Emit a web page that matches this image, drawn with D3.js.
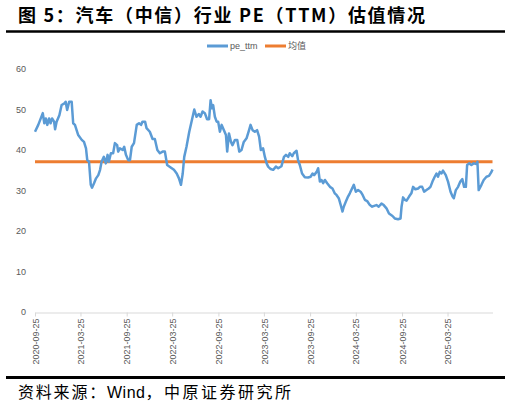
<!DOCTYPE html>
<html lang="zh">
<head>
<meta charset="UTF-8">
<title>汽车（中信）行业 PE（TTM）估值情况</title>
<style>
  html, body { margin: 0; padding: 0; background: #fff; }
  svg { display: block; }
  .axis text { font-family: "Liberation Sans", Arial, sans-serif; font-size: 9px; fill: #595959; }
</style>
</head>
<body>
<script src="https://cdn.jsdelivr.net/npm/d3@7/dist/d3.min.js"></script>
<script>
// weekly-ish readings
var dates = [
  "2020-09-25","2020-10-08","2020-10-26","2020-11-01","2020-11-07","2020-11-13","2020-11-20","2020-11-26",
  "2020-12-02","2020-12-10","2020-12-14","2020-12-20","2020-12-31","2021-01-09","2021-01-20","2021-01-25",
  "2021-01-31","2021-02-08","2021-02-18","2021-02-24","2021-03-03","2021-03-16","2021-03-30","2021-04-08",
  "2021-04-16","2021-04-21","2021-04-28","2021-05-05","2021-05-10","2021-05-18","2021-05-26","2021-06-04",
  "2021-06-11","2021-06-17","2021-06-26","2021-07-04","2021-07-11","2021-07-16","2021-07-24","2021-08-02",
  "2021-08-09","2021-08-18","2021-08-22","2021-08-29","2021-09-09","2021-09-15","2021-09-22","2021-10-01",
  "2021-10-08","2021-10-15","2021-10-24","2021-11-04","2021-11-13","2021-11-21","2021-11-27","2021-12-07",
  "2021-12-13","2021-12-26","2022-01-06","2022-01-15","2022-01-25","2022-02-04","2022-02-15","2022-02-24",
  "2022-03-05","2022-03-19","2022-04-01","2022-04-12","2022-04-21","2022-04-29","2022-05-06","2022-05-12",
  "2022-05-21","2022-06-01","2022-06-10","2022-06-21","2022-06-30","2022-07-09","2022-07-16","2022-07-24",
  "2022-08-02","2022-08-11","2022-08-19","2022-08-25","2022-08-30","2022-09-04","2022-09-11","2022-09-18",
  "2022-09-24","2022-10-01","2022-10-08","2022-10-17","2022-10-25","2022-10-30","2022-11-06","2022-11-14",
  "2022-11-20","2022-11-30","2022-12-09","2022-12-17","2022-12-26","2023-01-04","2023-01-15","2023-01-25",
  "2023-01-31","2023-02-08","2023-02-17","2023-02-26","2023-03-06","2023-03-13","2023-03-22","2023-03-29",
  "2023-04-05","2023-04-11","2023-04-21","2023-05-01","2023-05-12","2023-05-21","2023-06-03","2023-06-13",
  "2023-06-21","2023-06-30","2023-07-06","2023-07-16","2023-07-22","2023-08-02","2023-08-08","2023-08-15",
  "2023-08-24","2023-09-04","2023-09-17","2023-09-27","2023-10-05","2023-10-11","2023-10-21","2023-10-27",
  "2023-11-03","2023-11-09","2023-11-16","2023-11-23","2023-12-02","2023-12-13","2023-12-23","2024-01-01",
  "2024-01-08","2024-01-17","2024-01-25","2024-02-01","2024-02-06","2024-02-14","2024-02-23","2024-03-01",
  "2024-03-10","2024-03-17","2024-03-25","2024-04-03","2024-04-13","2024-04-21","2024-04-30","2024-05-09",
  "2024-05-20","2024-05-29","2024-06-06","2024-06-15","2024-06-24","2024-07-05","2024-07-14","2024-07-25",
  "2024-08-04","2024-08-18","2024-08-27","2024-09-09","2024-09-19","2024-09-23","2024-09-29","2024-10-06",
  "2024-10-13","2024-10-23","2024-11-01","2024-11-08","2024-11-17","2024-11-28","2024-12-05","2024-12-14",
  "2024-12-22","2024-12-31","2025-01-09","2025-01-16","2025-01-24","2025-02-02","2025-02-09","2025-02-15",
  "2025-02-22","2025-03-01","2025-03-07","2025-03-18","2025-03-27","2025-04-06","2025-04-14","2025-04-19",
  "2025-04-27","2025-05-06","2025-05-15","2025-05-23","2025-05-30","2025-06-06","2025-06-11","2025-06-19",
  "2025-06-28","2025-07-07","2025-07-18","2025-07-22","2025-07-27","2025-08-07","2025-08-16","2025-08-27",
  "2025-09-06","2025-09-16","2025-09-20"
];
var peValues = [
  44.5,46.2,49.1,46.6,47.8,46.2,47.8,46.6,
  47.8,47.0,45.1,47.0,48.6,51.1,51.5,51.9,
  49.9,51.9,51.9,46.6,46.2,43.7,42.5,42.0,
  40.4,37.5,37.1,31.4,30.7,31.8,33.0,33.8,
  35.1,37.1,38.3,36.7,38.8,37.1,39.2,39.2,
  41.7,41.2,39.6,40.4,40.0,40.8,38.8,37.5,
  37.5,40.8,41.7,46.2,46.6,46.2,47.0,47.0,
  45.4,44.5,42.7,42.7,40.0,39.2,39.6,39.6,
  36.3,35.7,35.1,34.2,33.0,31.4,34.2,38.3,
  40.8,44.5,47.0,50.0,48.2,48.9,48.2,49.5,
  49.1,47.6,47.6,52.3,50.3,51.1,48.2,47.0,
  47.0,44.5,46.2,44.9,43.7,39.6,44.1,42.0,
  41.2,42.5,42.5,39.6,40.0,42.0,42.9,44.9,
  46.2,44.9,44.5,44.9,43.3,40.0,40.4,38.3,
  36.7,35.9,35.3,35.1,35.9,35.5,36.0,38.3,
  38.8,38.3,39.2,38.5,39.2,39.8,37.5,36.3,
  34.2,33.3,33.2,33.4,34.2,33.8,34.6,35.5,
  32.2,32.6,31.8,32.6,31.8,30.9,30.5,29.3,
  28.9,28.1,26.4,24.8,26.0,27.2,28.5,29.3,
  30.5,31.4,29.7,30.1,29.7,28.9,27.7,27.4,
  26.4,26.0,26.2,26.4,26.0,26.8,26.4,25.6,
  24.3,23.7,23.1,22.9,23.1,26.0,28.3,27.7,
  27.5,28.5,29.3,30.9,30.3,30.5,30.9,30.9,
  29.7,30.1,30.5,30.9,32.2,33.4,34.2,33.4,
  34.6,34.2,34.9,33.8,32.2,29.7,28.5,28.1,
  30.1,30.9,32.2,32.8,30.9,30.9,36.3,36.7,
  36.3,36.7,36.5,37.1,30.1,31.4,32.6,33.4,
  33.6,34.6,35.2
];
var meanValue = 37.1;
var yTicks = [0, 10, 20, 30, 40, 50, 60];
var xTickLabels = ["2020-09-25","2021-03-25","2021-09-25","2022-03-25","2022-09-25",
                   "2023-03-25","2023-09-25","2024-03-25","2024-09-25","2025-03-25"];
var seriesNames = ["pe_ttm", "均值"];
var seriesColors = ["#5B9BD5", "#ED7D31"];

var W = 511, H = 409;
var parse = d3.timeParse("%Y-%m-%d");
var rows = dates.map(function(d, i) { return { date: parse(d), value: peValues[i] }; });

var svg = d3.select("body").append("svg")
  .attr("width", W)
  .attr("height", H);

// title + rules
svg.append("text")
  .attr("x", 18).attr("y", 22)
  .attr("textLength", 407).attr("lengthAdjust", "spacing")
  .style("font-family", "'Noto Sans CJK SC', sans-serif")
  .style("font-weight", "bold")
  .style("font-size", "18px")
  .attr("fill", "#000")
  .text("图 5：汽车（中信）行业 PE（TTM）估值情况");

svg.append("line").attr("x1", 6).attr("x2", 505).attr("y1", 31.5).attr("y2", 31.5)
  .attr("stroke", "#000").attr("stroke-width", 2.5);
svg.append("line").attr("x1", 6).attr("x2", 505).attr("y1", 377.5).attr("y2", 377.5)
  .attr("stroke", "#000").attr("stroke-width", 3);

// source line: CJK spaced out, latin kept tight
var source = svg.append("text")
  .attr("x", 18).attr("y", 398)
  .style("font-family", "'Noto Sans CJK SC', sans-serif")
  .style("font-size", "16px")
  .attr("fill", "#000");
source.append("tspan").style("letter-spacing", "1.8px").text("资料来源：");
source.append("tspan").style("font-family", "'Liberation Sans', sans-serif")
  .style("letter-spacing", "0.5px").text("Wind");
source.append("tspan").style("letter-spacing", "2.5px").text("，中原证券研究所");

// scales
var x = d3.scaleTime()
  .domain([parse(xTickLabels[0]), rows[rows.length - 1].date])
  .range([35, 492.5]);
var y = d3.scaleLinear().domain([0, 60]).range([312, 69]);

// y axis: labels only
var yAxis = svg.append("g").attr("class", "axis")
  .attr("transform", "translate(35,0)")
  .call(d3.axisLeft(y).tickValues(yTicks).tickSize(0).tickPadding(9));
yAxis.select(".domain").remove();

// x axis
var xAxis = svg.append("g").attr("class", "axis")
  .attr("transform", "translate(0,312.5)")
  .call(d3.axisBottom(x)
    .tickValues(xTickLabels.map(parse))
    .tickFormat(d3.timeFormat("%Y-%m-%d"))
    .tickSize(4).tickSizeOuter(0));
xAxis.select(".domain").attr("stroke", "#d9d9d9");
xAxis.selectAll(".tick line").attr("stroke", "#d9d9d9");
xAxis.selectAll(".tick text")
  .attr("transform", "rotate(-90)")
  .attr("text-anchor", "end")
  .attr("x", -6).attr("y", 0)
  .attr("dy", "0.35em");

// mean line
svg.append("line")
  .attr("x1", x.range()[0]).attr("x2", x.range()[1])
  .attr("y1", y(meanValue)).attr("y2", y(meanValue))
  .attr("stroke", seriesColors[1]).attr("stroke-width", 3);

// pe line
var line = d3.line()
  .x(function(d) { return x(d.date); })
  .y(function(d) { return y(d.value); });
svg.append("path")
  .datum(rows)
  .attr("d", line)
  .attr("fill", "none")
  .attr("stroke", seriesColors[0])
  .attr("stroke-width", 2.5)
  .attr("stroke-linejoin", "round");

// legend
var legendX = [207, 265];
var legend = svg.selectAll(".legend")
  .data(seriesNames)
  .enter().append("g")
  .attr("class", "legend")
  .attr("transform", function(d, i) { return "translate(" + legendX[i] + ",46)"; });
legend.append("line")
  .attr("x1", 0).attr("x2", 21)
  .attr("stroke", function(d, i) { return seriesColors[i]; })
  .attr("stroke-width", 3);
legend.append("text")
  .attr("x", 23).attr("dy", "0.35em")
  .style("font-family", "'Liberation Sans', 'Noto Sans CJK SC', sans-serif")
  .style("font-size", "9px")
  .attr("fill", "#595959")
  .text(function(d) { return d; });
</script>
</body>
</html>
